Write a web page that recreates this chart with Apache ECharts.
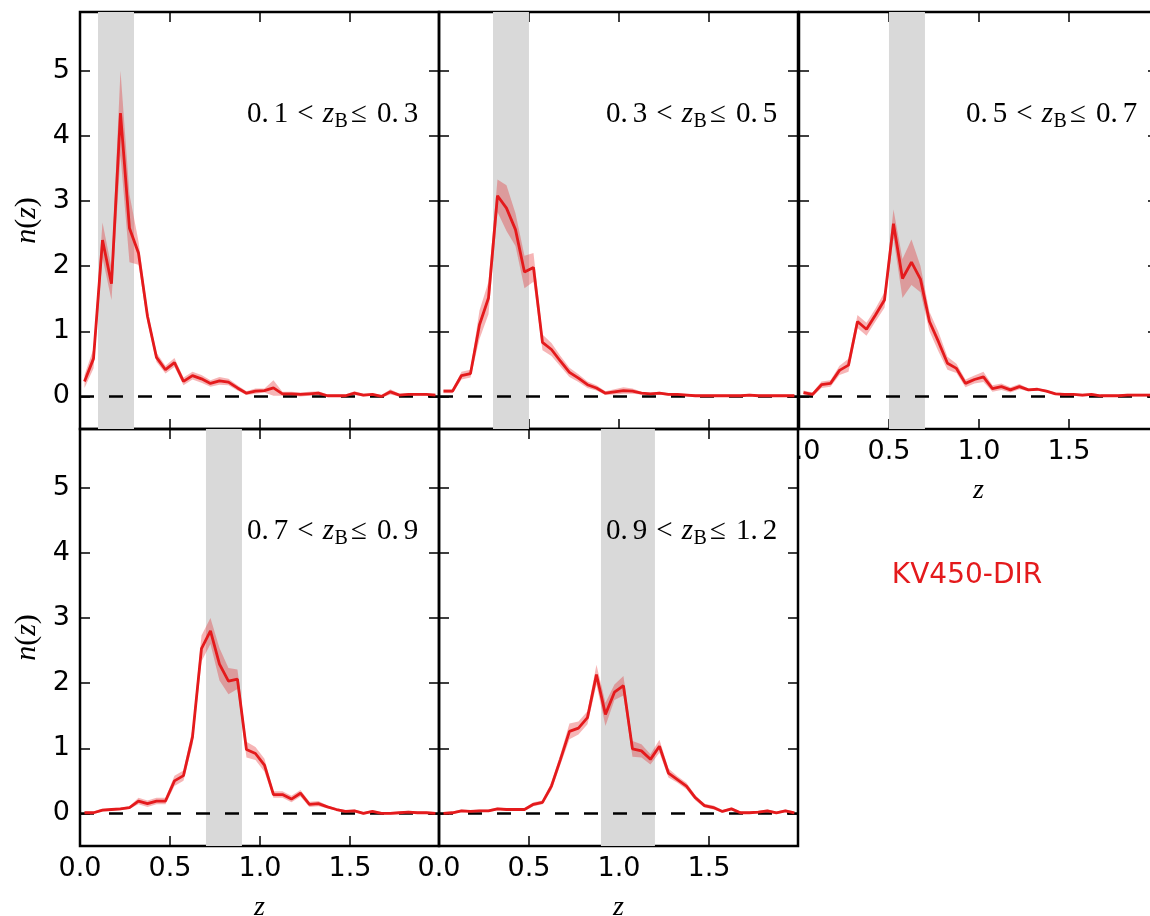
<!DOCTYPE html>
<html><head><meta charset="utf-8">
<script src="https://cdn.jsdelivr.net/npm/echarts@6/dist/echarts.min.js"></script>
<style>html,body{margin:0;padding:0;background:#fff}#c{width:1150px;height:916px}</style>
</head><body><div id="c"></div>
<script>
// ---------- data ----------
const zCenters = [0.025,0.075,0.125,0.175,0.225,0.275,0.325,0.375,0.425,0.475,
  0.525,0.575,0.625,0.675,0.725,0.775,0.825,0.875,0.925,0.975,
  1.025,1.075,1.125,1.175,1.225,1.275,1.325,1.375,1.425,1.475,
  1.525,1.575,1.625,1.675,1.725,1.775,1.825,1.875,1.925,1.975];

const binLo = [0.1, 0.3, 0.5, 0.7, 0.9];
const binHi = [0.3, 0.5, 0.7, 0.9, 1.2];

const nz1 = [0.23,0.58,2.40,1.73,4.35,2.58,2.20,1.23,0.60,0.41,0.52,0.23,0.32,0.27,0.20,0.24,0.22,0.13,0.05,0.08,
  0.09,0.13,0.04,0.04,0.03,0.04,0.05,0.01,0.01,0.01,0.05,0.02,0.03,0.00,0.07,0.02,0.03,0.03,0.03,0.02];
const err1 = [0.10,0.15,0.27,0.25,0.65,0.52,0.18,0.10,0.07,0.06,0.07,0.06,0.06,0.06,0.05,0.06,0.05,0.04,0.03,0.04,
  0.03,0.12,0.03,0.03,0.03,0.03,0.03,0.02,0.02,0.02,0.03,0.02,0.02,0.02,0.04,0.02,0.02,0.02,0.02,0.02];

const nz2 = [0.08,0.08,0.32,0.35,1.10,1.51,3.08,2.89,2.56,1.91,1.98,0.83,0.72,0.54,0.37,0.28,0.18,0.13,0.05,0.07,
  0.09,0.08,0.05,0.04,0.05,0.03,0.03,0.02,0.01,0.01,0.01,0.01,0.01,0.01,0.02,0.01,0.01,0.01,0.01,0.01];
const err2 = [0.03,0.03,0.06,0.06,0.22,0.25,0.25,0.35,0.25,0.25,0.22,0.12,0.10,0.08,0.07,0.06,0.05,0.04,0.03,0.04,
  0.05,0.04,0.02,0.02,0.02,0.02,0.02,0.02,0.02,0.02,0.02,0.02,0.02,0.02,0.02,0.02,0.02,0.02,0.02,0.02];

const nz3 = [0.06,0.03,0.18,0.20,0.40,0.48,1.15,1.03,1.25,1.48,2.65,1.81,2.06,1.80,1.15,0.84,0.51,0.43,0.20,0.26,
  0.30,0.12,0.15,0.10,0.15,0.10,0.11,0.08,0.04,0.03,0.03,0.02,0.03,0.01,0.01,0.01,0.02,0.02,0.02,0.02];
const err3 = [0.03,0.03,0.05,0.05,0.07,0.10,0.10,0.10,0.10,0.12,0.22,0.30,0.35,0.20,0.15,0.15,0.10,0.07,0.06,0.06,
  0.08,0.05,0.05,0.04,0.04,0.02,0.02,0.02,0.02,0.02,0.02,0.02,0.02,0.02,0.02,0.02,0.02,0.02,0.02,0.02];

const nz4 = [0.01,0.01,0.05,0.06,0.07,0.09,0.19,0.15,0.19,0.19,0.50,0.58,1.17,2.53,2.80,2.29,2.03,2.06,0.98,0.92,
  0.74,0.29,0.29,0.22,0.31,0.14,0.15,0.10,0.06,0.03,0.04,0.00,0.03,0.00,0.00,0.01,0.02,0.01,0.01,0.00];
const err4 = [0.02,0.02,0.02,0.02,0.02,0.02,0.05,0.05,0.05,0.05,0.08,0.08,0.12,0.20,0.20,0.25,0.20,0.15,0.12,0.10,
  0.10,0.05,0.05,0.05,0.05,0.04,0.04,0.02,0.02,0.02,0.02,0.02,0.02,0.02,0.02,0.02,0.02,0.02,0.02,0.02];

const nz5 = [0.00,0.01,0.04,0.03,0.04,0.04,0.07,0.06,0.06,0.06,0.14,0.17,0.42,0.83,1.26,1.31,1.47,2.13,1.52,1.86,
  1.96,0.99,0.96,0.83,1.03,0.62,0.52,0.42,0.24,0.12,0.09,0.03,0.07,0.01,0.01,0.02,0.04,0.01,0.04,0.01];
const err5 = [0.02,0.02,0.02,0.02,0.02,0.02,0.02,0.02,0.02,0.02,0.03,0.03,0.06,0.08,0.12,0.10,0.10,0.15,0.18,0.12,
  0.15,0.12,0.10,0.08,0.10,0.07,0.05,0.05,0.04,0.03,0.03,0.02,0.02,0.02,0.02,0.02,0.02,0.02,0.02,0.02];

const xTicks = [0, 0.5, 1.0, 1.5];
const yTicks = [0, 1, 2, 3, 4, 5];
const sampleLabel = 'KV450-DIR';

// ---------- layout / style ----------
const RED = '#e41a1c';
const XMAX = 1.995, YMIN = -0.5, YMAX = 5.9;
const PW = 359, PH = 417;
const panels = [
  {left: 80,  top: 12,  xl: false, yl: true,  xn: false, yn: true,  nz: nz1, err: err1},
  {left: 439, top: 12,  xl: false, yl: false, xn: false, yn: false, nz: nz2, err: err2},
  {left: 799, top: 12,  xl: true,  yl: false, xn: true,  yn: false, nz: nz3, err: err3, hideZero: true},
  {left: 80,  top: 429, xl: true,  yl: true,  xn: true,  yn: true,  nz: nz4, err: err4},
  {left: 439, top: 429, xl: true,  yl: false, xn: true,  yn: false, nz: nz5, err: err5}
];

const tickFont = {fontSize: 27, fontFamily: 'DejaVu Sans', color: '#000'};
const serif = 'Liberation Serif';

const option = {
  animation: false,
  backgroundColor: '#fff',
  grid: [], xAxis: [], yAxis: [], series: [], graphic: []
};

const mathRich = {
  d: {fontFamily: serif, fontSize: 29, fill: '#000', padding: [0, 5, 0, 0]},
  e: {fontFamily: serif, fontSize: 29, fill: '#000'},
  r: {fontFamily: serif, fontSize: 29, fill: '#000', padding: [0, 9, 0, 9]},
  q: {fontFamily: serif, fontSize: 29, fill: '#000', padding: [0, 10, 0, 0]},
  i: {fontFamily: serif, fontSize: 29, fill: '#000', fontStyle: 'italic'}
};

panels.forEach((p, i) => {
  option.grid.push({left: p.left, top: p.top, width: PW, height: PH, show: true,
    outerBoundsMode: 'none', containLabel: false,
    borderColor: '#000', borderWidth: 2.5, backgroundColor: 'transparent'});

  const tick = {show: true, inside: true, length: 10, lineStyle: {color: '#000', width: 1.5}};
  const noLine = {show: false, onZero: false};
  // bottom x
  option.xAxis.push({
    type: 'value', gridIndex: i, position: 'bottom', min: 0, max: XMAX,
    axisLine: noLine, splitLine: {show: false},
    axisTick: Object.assign({customValues: xTicks}, tick),
    axisLabel: Object.assign({
      show: p.xl, customValues: xTicks, margin: 9,
      formatter: v => (p.hideZero && v === 0) ? '{hid|0}{vis|.0}' : v.toFixed(1),
      rich: {hid: {color: 'rgba(0,0,0,0)', fontSize: 27, fontFamily: 'DejaVu Sans'},
             vis: {color: '#000', fontSize: 27, fontFamily: 'DejaVu Sans'}}
    }, tickFont),
    name: p.xn ? 'z' : '', nameLocation: 'middle', nameGap: 48,
    nameTextStyle: {fontFamily: serif, fontStyle: 'italic', fontSize: 28, color: '#000'}
  });
  // top x
  option.xAxis.push({
    type: 'value', gridIndex: i, position: 'top', min: 0, max: XMAX,
    axisLine: noLine, splitLine: {show: false},
    axisTick: Object.assign({customValues: xTicks}, tick),
    axisLabel: {show: false}
  });
  // left y
  option.yAxis.push({
    type: 'value', gridIndex: i, position: 'left', min: YMIN, max: YMAX,
    axisLine: noLine, splitLine: {show: false},
    axisTick: Object.assign({customValues: yTicks}, tick),
    axisLabel: Object.assign({show: p.yl, customValues: yTicks, margin: 10}, tickFont),
    name: p.yn ? '{i|n}{r|(}{i|z}{r|)}' : '', nameLocation: 'middle', nameGap: 38,
    nameTextStyle: {rich: {
      i: {fontFamily: serif, fontStyle: 'italic', fontSize: 30, color: '#000'},
      r: {fontFamily: serif, fontSize: 30, color: '#000'}
    }}
  });
  // right y
  option.yAxis.push({
    type: 'value', gridIndex: i, position: 'right', min: YMIN, max: YMAX,
    axisLine: noLine, splitLine: {show: false},
    axisTick: Object.assign({customValues: yTicks}, tick),
    axisLabel: {show: false}
  });

  const lo = p.nz.map((v, k) => v - p.err[k]);
  const hi = p.nz.map((v, k) => v + p.err[k]);

  // grey bin band carrier
  option.series.push({
    type: 'line', xAxisIndex: 2 * i, yAxisIndex: 2 * i, silent: true,
    data: zCenters.map((x, k) => [x, p.nz[k]]), symbol: 'none',
    lineStyle: {width: 0, opacity: 0}, z: 1,
    markArea: {silent: true, itemStyle: {color: '#d9d9d9'}, z: 1,
      data: [[{xAxis: binLo[i]}, {xAxis: binHi[i]}]]}
  });
  // error band polygon
  option.series.push({
    type: 'custom', xAxisIndex: 2 * i, yAxisIndex: 2 * i, silent: true, z: 3,
    data: zCenters.map((x, k) => [x, lo[k], hi[k]]),
    encode: {x: 0, y: [1, 2]},
    renderItem: (params, api) => {
      if (params.dataIndex !== 0) return null;
      const up = zCenters.map((x, k) => api.coord([x, hi[k]]));
      const dn = zCenters.map((x, k) => api.coord([x, lo[k]])).reverse();
      return {type: 'polygon', shape: {points: up.concat(dn)},
        style: {fill: 'rgba(228,26,28,0.32)', stroke: null}};
    }
  });
  // main line + dashed zero line
  option.series.push({
    type: 'line', xAxisIndex: 2 * i, yAxisIndex: 2 * i, silent: true,
    data: zCenters.map((x, k) => [x, p.nz[k]]),
    symbol: 'none', lineStyle: {color: RED, width: 2.8}, z: 6,
    markLine: {silent: true, symbol: ['none', 'none'], label: {show: false}, z: 5,
      lineStyle: {color: '#000', width: 2.5, type: [14, 15]},
      data: [{yAxis: 0}]}
  });

  const a = binLo[i].toFixed(1), b = binHi[i].toFixed(1);
  option.graphic.push({
    type: 'text', z: 100, x: p.left + 254, y: p.top + 102,
    style: {text: '{d|' + a.slice(0, 2) + '}{e|' + a.slice(2) + '}{r|<}{i|z}', rich: mathRich,
      align: 'right', verticalAlign: 'middle'}
  });
  option.graphic.push({
    type: 'text', z: 100, x: p.left + 254.5, y: p.top + 110,
    style: {text: 'B', fontFamily: serif, fontSize: 20, fill: '#000', align: 'left', verticalAlign: 'middle'}
  });
  option.graphic.push({
    type: 'text', z: 100, x: p.left + 271, y: p.top + 102,
    style: {text: '{q|≤}{d|' + b.slice(0, 2) + '}{e|' + b.slice(2) + '}', rich: mathRich,
      align: 'left', verticalAlign: 'middle'}
  });
});

option.graphic.push({
  type: 'text', z: 100, x: 967, y: 576,
  style: {text: sampleLabel, fontFamily: 'DejaVu Sans', fontSize: 28, fill: RED,
    align: 'center', verticalAlign: 'middle'}
});

const chart = echarts.init(document.getElementById('c'), null, {renderer: 'canvas', width: 1150, height: 916});
chart.setOption(option);
</script>
</body></html>
